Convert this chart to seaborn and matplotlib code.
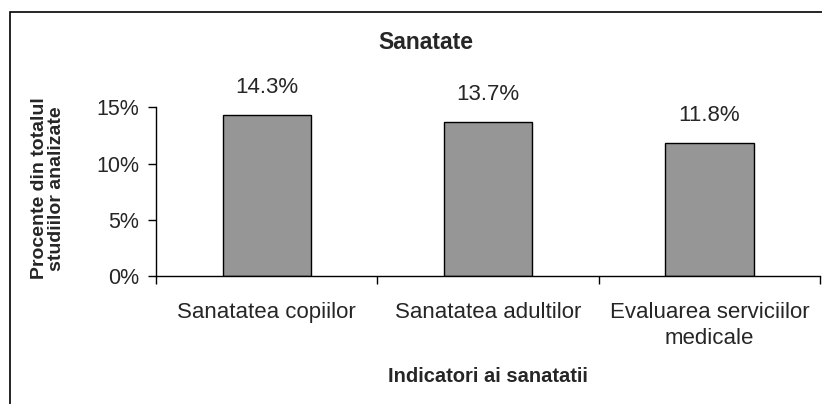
import matplotlib
matplotlib.use("Agg")
import matplotlib.pyplot as plt
import matplotlib.ticker as mticker
from matplotlib.patches import Rectangle
import seaborn as sns
import pandas as pd

categories = ["Sanatatea copiilor", "Sanatatea adultilor", "Evaluarea serviciilor\nmedicale"]
values = [0.143, 0.137, 0.118]
yticks = [0, 0.05, 0.10, 0.15]

sns.set_style("white")
plt.rcParams['font.family'] = ['Liberation Sans', 'DejaVu Sans']

df = pd.DataFrame({"cat": categories, "val": values})

fig = plt.figure(figsize=(8.22, 4.04), dpi=100)
ax = fig.add_axes([0.19, 0.317, 0.8076, 0.417])

sns.barplot(data=df, x="cat", y="val", color="#969696", edgecolor="black",
            linewidth=1, width=0.4, saturation=1, ax=ax)

ax.set_xlim(-0.5, 2.5)
ax.set_ylim(0, 0.15)
ax.set_yticks(yticks)
ax.yaxis.set_major_formatter(mticker.FuncFormatter(lambda v, p: f"{v*100:.0f}%"))

for i, v in enumerate(values):
    ax.annotate(f"{v*100:.1f}%", (i, v), xytext=(0, 20), textcoords="offset points",
                ha="center", va="center", fontsize=16, annotation_clip=False)

# tick marks between categories, labels centered under bars
ax.set_xticks([-0.5, 0.5, 1.5, 2.5], minor=True)
ax.tick_params(axis="x", which="major", length=0, pad=19, labelsize=16)
ax.tick_params(axis="x", which="minor", length=6, width=1, direction="out", color="black")
ax.tick_params(axis="y", length=6, width=1, direction="out", color="black", pad=6, labelsize=15.5)
ax.xaxis.set_ticks_position("bottom")
ax.yaxis.set_ticks_position("left")
for lbl in ax.get_xticklabels():
    lbl.set_linespacing(1.3)

for s in ["top", "right"]:
    ax.spines[s].set_visible(False)
for s in ["left", "bottom"]:
    ax.spines[s].set_color("black")
    ax.spines[s].set_linewidth(1)

ax.set_xlabel("Indicatori ai sanatatii", fontsize=14.5, fontweight="bold")
ax.xaxis.label.set_va("center")
ax.xaxis.set_label_coords(0.5, -0.598)
ax.set_ylabel("Procente din totalul\nstudiilor analizate", fontsize=14, fontweight="bold",
              linespacing=1.0)
ax.yaxis.label.set_va("center")
ax.yaxis.set_label_coords(-0.163, 0.52)

fig.text(0.518, 0.894, "Sanatate", ha="center", va="center", fontsize=16.5, fontweight="bold")

fig.patches.append(Rectangle((10 / 822, -0.05), 1.1, 0.05 + 1 - 12 / 404, transform=fig.transFigure,
                             fill=False, edgecolor="black", linewidth=1.2))

fig.savefig("out.png", dpi=100)
